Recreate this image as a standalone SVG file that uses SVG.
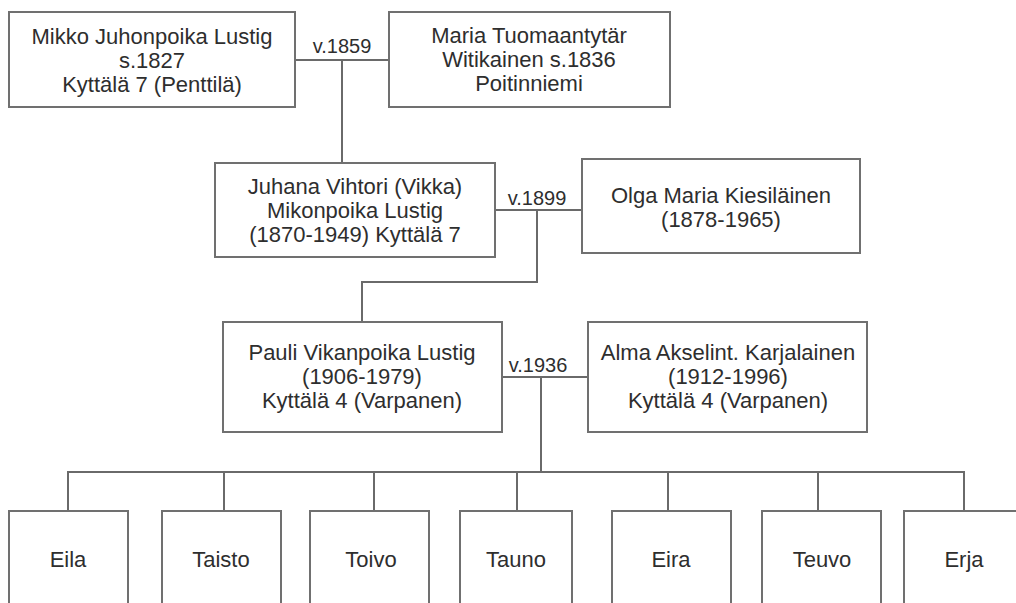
<svg xmlns="http://www.w3.org/2000/svg" width="1016" height="603" viewBox="0 0 1016 603">
<style>
.box{fill:#fff;stroke:#707070;stroke-width:2}
.t{font-family:"Liberation Sans",Arial,sans-serif;font-size:22px;fill:#2e2e2e;text-anchor:middle}
.lbl{font-family:"Liberation Sans",Arial,sans-serif;font-size:20px;fill:#2e2e2e;text-anchor:middle}
.c{fill:none;stroke:#6a6a6a;stroke-width:2}
</style>
<rect width="1016" height="603" fill="#fff"/>
<g id="connectors">
<path class="c" d="M295,60H389M342,60V163"/>
<path class="c" d="M495,210H582M537,210V282H362V322"/>
<path class="c" d="M502,377H588M541,377V472"/>
<path class="c" d="M68,511V472H964V511M224,472V511M374,472V511M517,472V511M668,472V511M818,472V511"/>
<text class="lbl" x="342" y="53">v.1859</text>
<text class="lbl" x="537" y="205">v.1899</text>
<text class="lbl" x="538" y="372">v.1936</text>
</g>
<g id="mikko">
<rect class="box" x="9" y="12" width="286" height="95"/>
<text class="t" x="152" y="44">Mikko Juhonpoika Lustig</text>
<text class="t" x="152" y="68">s.1827</text>
<text class="t" x="152" y="92">Kyttälä 7 (Penttilä)</text>
</g>
<g id="maria">
<rect class="box" x="389" y="12" width="281" height="95"/>
<text class="t" x="529" y="43">Maria Tuomaantytär</text>
<text class="t" x="529" y="67">Witikainen s.1836</text>
<text class="t" x="529" y="91">Poitinniemi</text>
</g>
<g id="juhana">
<rect class="box" x="215" y="163" width="280" height="94"/>
<text class="t" x="355" y="194">Juhana Vihtori (Vikka)</text>
<text class="t" x="355" y="218">Mikonpoika Lustig</text>
<text class="t" x="355" y="242">(1870-1949) Kyttälä 7</text>
</g>
<g id="olga">
<rect class="box" x="582" y="159" width="278" height="94"/>
<text class="t" x="721" y="203">Olga Maria Kiesiläinen</text>
<text class="t" x="721" y="227">(1878-1965)</text>
</g>
<g id="pauli">
<rect class="box" x="223" y="322" width="279" height="110"/>
<text class="t" x="362" y="360">Pauli Vikanpoika Lustig</text>
<text class="t" x="362" y="384">(1906-1979)</text>
<text class="t" x="362" y="408">Kyttälä 4 (Varpanen)</text>
</g>
<g id="alma">
<rect class="box" x="588" y="322" width="279" height="110"/>
<text class="t" x="728" y="360">Alma Akselint. Karjalainen</text>
<text class="t" x="728" y="384">(1912-1996)</text>
<text class="t" x="728" y="408">Kyttälä 4 (Varpanen)</text>
</g>
<g id="eila"><rect class="box" x="9" y="511" width="119" height="100"/><text class="t" x="68" y="567">Eila</text></g>
<g id="taisto"><rect class="box" x="162" y="511" width="119" height="100"/><text class="t" x="221" y="567">Taisto</text></g>
<g id="toivo"><rect class="box" x="310" y="511" width="119" height="100"/><text class="t" x="371" y="567">Toivo</text></g>
<g id="tauno"><rect class="box" x="460" y="511" width="112" height="100"/><text class="t" x="516" y="567">Tauno</text></g>
<g id="eira"><rect class="box" x="612" y="511" width="119" height="100"/><text class="t" x="671" y="567">Eira</text></g>
<g id="teuvo"><rect class="box" x="762" y="511" width="119" height="100"/><text class="t" x="822" y="567">Teuvo</text></g>
<g id="erja"><rect class="box" x="904" y="511" width="130" height="100"/><text class="t" x="964" y="567">Erja</text></g>
</svg>
